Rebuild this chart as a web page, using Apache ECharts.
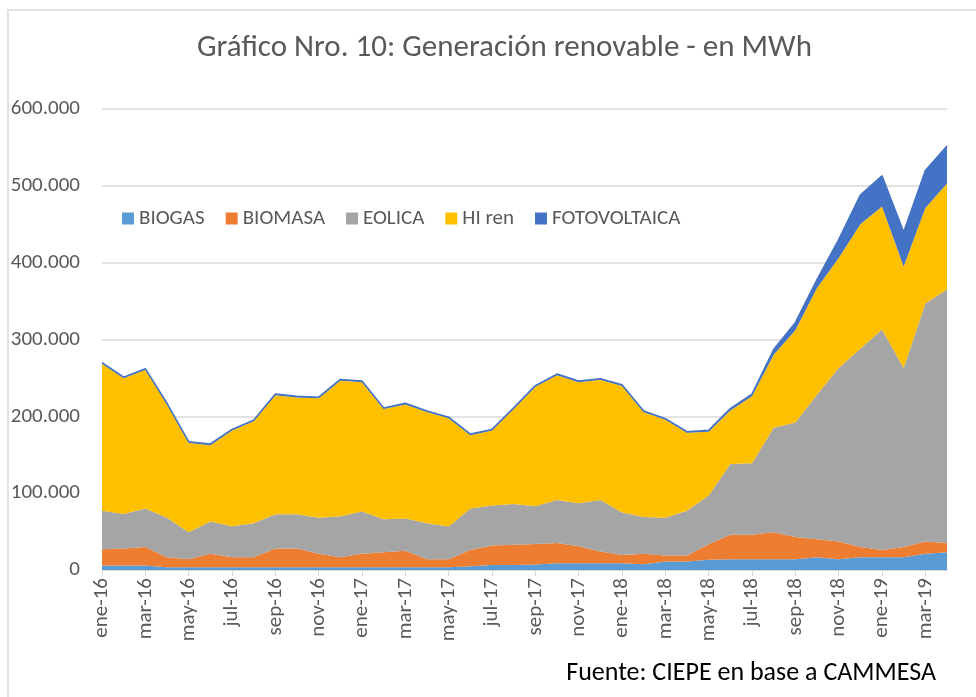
<!DOCTYPE html>
<html>
<head>
<meta charset="utf-8">
<script src="https://cdn.jsdelivr.net/npm/echarts@6/dist/echarts.min.js"></script>
<style>
  html, body { margin: 0; padding: 0; background: #fff; }
  #chart { width: 976px; height: 697px; }
</style>
</head>
<body>
<div id="chart"></div>
<script>
const months = [
  'ene-16','feb-16','mar-16','abr-16','may-16','jun-16','jul-16','ago-16','sep-16','oct-16','nov-16','dic-16',
  'ene-17','feb-17','mar-17','abr-17','may-17','jun-17','jul-17','ago-17','sep-17','oct-17','nov-17','dic-17',
  'ene-18','feb-18','mar-18','abr-18','may-18','jun-18','jul-18','ago-18','sep-18','oct-18','nov-18','dic-18',
  'ene-19','feb-19','mar-19','abr-19'
];
// MWh
const biogas = [6000,6000,6000,3500,3500,3500,3500,3500,3500,3500,3500,3500,
  3500,3500,3500,3500,3500,5000,6500,6500,7000,8700,8700,8700,
  8700,7400,11000,11000,13500,14000,14000,14000,14000,16500,14000,16500,
  16500,16500,21000,23000];
const biomasa = [21000,22000,24000,13000,10500,17500,13000,13000,24500,24500,17500,13000,
  17500,19500,21500,10500,10500,21000,25500,26500,27000,26300,22300,15300,
  10800,13600,8000,8000,20000,32000,32000,35000,29000,23500,23000,13500,
  9500,13500,16000,12000];
const eolica = [50000,45000,50000,51500,35000,42000,40500,44500,44600,44600,47000,53500,
  55000,43000,42000,47000,42500,54000,52000,53000,49000,56000,56000,67000,
  55500,48000,49000,58000,63500,92000,93000,136000,149000,188000,226000,258000,
  287000,233000,310000,330000];
const hiRen = [191500,176500,180500,147500,116500,99500,124500,132500,155000,152000,155500,176500,
  168500,143500,148500,144500,141000,95500,97500,123500,155500,162500,157500,156500,
  164500,136500,127500,101500,83000,69500,87000,95000,120000,139000,143000,162000,
  160000,132000,124000,138000];
const fotovoltaica = [1500,1500,1500,1500,1500,1500,1500,1500,1500,1500,1500,1500,
  1500,1500,1500,1500,1500,1500,1500,1500,1500,1500,1500,1500,
  1500,1500,1500,1500,2000,2500,3000,7000,10000,11000,24000,38000,
  40000,45000,49000,49000];

const names = ['BIOGAS','BIOMASA','EOLICA','HI ren','FOTOVOLTAICA'];
const colors = ['#5B9BD5','#ED7D31','#A5A5A5','#FFC000','#4472C4'];
const values = [biogas, biomasa, eolica, hiRen, fotovoltaica];

const font = 'Carlito, "Liberation Sans Narrow", "DejaVu Sans Condensed", sans-serif';

const chart = echarts.init(document.getElementById('chart'));

const option = {
  animation: false,
  color: colors,
  title: {
    text: 'Gráfico Nro. 10: Generación renovable - en MWh',
    left: 192,
    top: 28,
    textStyle: { color: '#595959', fontSize: 31, fontWeight: 'normal', fontFamily: font }
  },
  legend: {
    data: names,
    left: 117,
    top: 203,
    icon: 'rect',
    itemWidth: 12,
    itemHeight: 12,
    itemGap: 21,
    textStyle: { color: '#595959', fontSize: 21, fontFamily: font }
  },
  grid: { left: 102, right: 29, top: 109, bottom: 127 },
  xAxis: {
    type: 'category',
    data: months,
    boundaryGap: false,
    axisLine: { lineStyle: { color: '#d9d9d9', width: 1.5 } },
    axisTick: { interval: 1, length: 6, lineStyle: { color: '#d9d9d9' } },
    axisLabel: {
      interval: 1,
      rotate: 90,
      margin: 8,
      color: '#595959',
      fontSize: 21,
      fontFamily: font
    },
    splitLine: { show: false }
  },
  yAxis: {
    type: 'value',
    min: 0,
    max: 600000,
    interval: 100000,
    axisLine: { show: false },
    axisTick: { show: false },
    axisLabel: {
      margin: 22,
      color: '#595959',
      fontSize: 21,
      fontFamily: font,
      formatter: v => v === 0 ? '0' : (v / 1000) + '.000'
    },
    splitLine: { lineStyle: { color: '#d9d9d9', width: 1.5 } }
  },
  series: names.map((n, k) => ({
    name: n,
    type: 'line',
    stack: 'total',
    data: values[k],
    symbol: 'none',
    lineStyle: k === 4 ? { width: 1.5, color: colors[k] } : { width: 0 },
    areaStyle: { color: colors[k], opacity: 1 },
    itemStyle: { color: colors[k] }
  })),
  graphic: [
    {
      type: 'rect',
      shape: { x: 8, y: 10, width: 1000, height: 720, r: 0 },
      style: { fill: 'none', stroke: '#d9d9d9', lineWidth: 1.5 },
      silent: true
    },
    {
      type: 'text',
      right: 40,
      top: 660,
      style: {
        text: 'Fuente: CIEPE en base a CAMMESA',
        fill: '#000',
        fontSize: 26,
        fontFamily: font
      }
    }
  ]
};
chart.setOption(option);
</script>
</body>
</html>
